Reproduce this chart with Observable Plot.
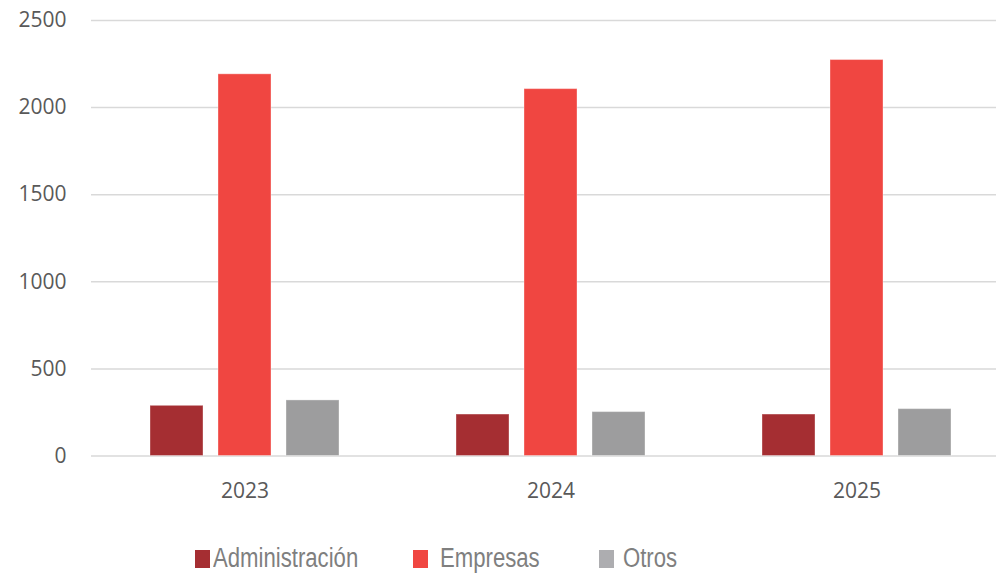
<!DOCTYPE html>
<html><head><meta charset="utf-8">
<script src="https://cdn.jsdelivr.net/npm/d3@7"></script>
<script src="https://cdn.jsdelivr.net/npm/@observablehq/plot@0.6"></script>
<style>
body{margin:0;background:#fff;overflow:hidden}
#chart{position:relative;width:996px;height:575px}
#legend{position:absolute;top:520px;left:0;width:996px;height:55px;font-family:"Liberation Sans",Arial,sans-serif;font-size:27px;color:#7f7f7f}
#legend .sw{position:absolute;top:30px;width:15px;height:18px}
#legend .lb{position:absolute;top:25px;line-height:27px;white-space:nowrap;transform:scaleX(0.82);transform-origin:left center}
</style></head>
<body><div id="chart"></div>
<script>
const years = ["2023", "2024", "2025"];
const series = ["Administración", "Empresas", "Otros"];
const administracion = [288, 238, 238];
const empresas = [2191, 2106, 2273];
const otros = [319, 252, 269];
const yTicks = [0, 500, 1000, 1500, 2000, 2500];
const colors = ["#A52E32", "#F04641", "#9D9D9E"];
const swatchColors = ["#A52E32", "#F04641", "#ADADB0"];

const values = [administracion, empresas, otros];
const offsets = [-68, 0, 68];
const rows = series.map((s, i) => years.map((y, j) => ({year: y, series: s, value: values[i][j]})));

const marks = [
  Plot.ruleY(yTicks, {stroke: "#D9D9D9", strokeWidth: 1.5}),
  ...rows.map((r, i) => Plot.barY(r, {x: "year", y: "value", fill: colors[i], dx: offsets[i], stroke: "#fff", strokeOpacity: 0.35, strokeWidth: 1}))
];
if (Plot.axisY) {
  marks.push(Plot.axisY(yTicks, {tickSize: 0, tickPadding: 25, fontSize: 21, fill: "#595959", label: null, tickFormat: d => String(d)}));
  marks.push(Plot.axisX({tickSize: 0, tickPadding: 27, fontSize: 21, fill: "#595959", label: null}));
}

const chart = Plot.plot({
  width: 996,
  height: 520,
  marginLeft: 91,
  marginRight: 0,
  marginTop: 20,
  marginBottom: 64.5,
  style: {fontFamily: "'Open Sans', sans-serif", fontSize: "21px", color: "#595959", background: "#fff"},
  x: {domain: years, paddingInner: 0.827, paddingOuter: 0.39, align: 0.529, label: null, tickSize: 0, tickPadding: 27},
  y: {domain: [0, 2500], ticks: yTicks, label: null, tickSize: 0, tickPadding: 25, tickFormat: d => String(d)},
  marks
});
document.getElementById("chart").appendChild(chart);

const legend = document.createElement("div");
legend.id = "legend";
const swLeft = [195, 413, 599];
const lbLeft = [213, 440, 623];
series.forEach((s, i) => {
  const sw = document.createElement("div");
  sw.className = "sw"; sw.style.left = swLeft[i] + "px"; sw.style.background = swatchColors[i];
  const lb = document.createElement("div");
  lb.className = "lb"; lb.style.left = lbLeft[i] + "px"; lb.textContent = s;
  legend.appendChild(sw); legend.appendChild(lb);
});
document.getElementById("chart").appendChild(legend);
</script>
</body></html>
